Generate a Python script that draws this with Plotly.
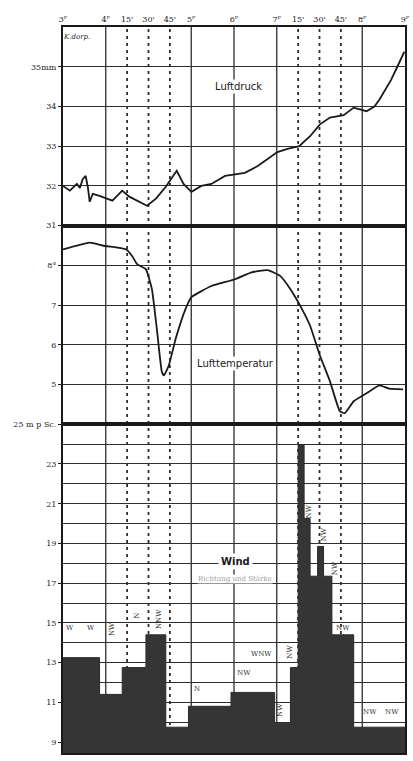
import plotly.graph_objects as go
from plotly.subplots import make_subplots

# Time axis in slot units: one slot = 30 min for the ordinary hours,
# 15 min for the expanded hours 4-5P and 7-8P.
tick_pos = [0, 2, 3, 4, 5, 6, 8, 10, 11, 12, 13, 14, 16]
tick_text = ["3ᴾ", "4ᴾ", "15'", "30'", "45'", "5ᴾ",
             "6ᴾ", "7ᴾ", "15'", "30'", "45'", "8ᴾ", "9ᴾ"]
hour_pos = [2, 6, 8, 10, 14]
quarter_pos = [3, 4, 5, 11, 12, 13]

# Luftdruck (mm, 7xx)
p_t = [0, 0.32, 0.65, 0.79, 0.92, 1.06, 1.16, 1.25, 1.39, 1.71, 2.31, 2.77, 3.10,
       3.93, 4.35, 4.81, 5.32, 5.64, 6.01, 6.47, 6.94, 7.58, 8.51, 9.11, 10.03,
       10.50, 11.05, 11.56, 12.02, 12.49, 13.13, 13.60, 14.20, 14.57, 14.80,
       15.35, 15.58, 15.80, 15.97]
p_v = [32.0, 31.88, 32.05, 31.95, 32.17, 32.25, 31.98, 31.6, 31.8, 31.75, 31.63,
       31.88, 31.73, 31.5, 31.68, 31.98, 32.38, 32.05, 31.85, 32.0, 32.05, 32.25,
       32.33, 32.5, 32.85, 32.93, 33.0, 33.25, 33.55, 33.72, 33.78, 33.97, 33.88,
       34.0, 34.17, 34.67, 34.93, 35.2, 35.38]
p_ticks = [31, 32, 33, 34, 35]
p_labels = ["31", "32", "33", "34", "35mm"]

# Lufttemperatur (deg C)
t_t = [0, 1.25, 1.85, 2.50, 2.96, 3.24, 3.47, 3.88, 4.16, 4.39, 4.62, 4.72, 4.95,
       5.27, 5.73, 6.01, 6.94, 8.05, 8.79, 9.57, 10.17, 10.64, 11.10, 11.56,
       12.02, 12.49, 12.95, 13.18, 13.60, 14.20, 14.80, 15.26, 15.91]
t_v = [8.4, 8.57, 8.5, 8.45, 8.4, 8.23, 8.03, 7.9, 7.4, 6.4, 5.33, 5.23, 5.48,
       6.15, 6.9, 7.2, 7.48, 7.65, 7.82, 7.88, 7.73, 7.4, 6.98, 6.48, 5.73, 5.08,
       4.33, 4.28, 4.58, 4.78, 4.98, 4.9, 4.88]
t_ticks = [5, 6, 7, 8]
t_labels = ["5", "6", "7", "8°"]

# Wind strength (m p Sec.), step edges and values
w_edges = [0, 1.71, 2.77, 3.88, 4.81, 5.87, 7.86, 9.90, 10.64, 11.0, 11.28,
           11.56, 11.91, 12.19, 12.58, 13.60, 16.05]
w_speed = [13.25, 11.4, 12.75, 14.4, 9.75, 10.8, 11.5, 9.95, 12.75, 23.95,
           20.25, 17.35, 18.85, 17.35, 14.4, 9.75]
w_ticks = [9, 11, 13, 15, 17, 19, 21, 23, 25]
w_labels = ["9", "11", "13", "15", "17", "19", "21", "23", "25 m p Sc."]
w_minor = [10, 12, 14, 16, 18, 20, 22, 24]

# Wind direction labels: (t, speed, text, angle)
w_dirs = [
    (0.33, 14.75, "W", 0), (1.3, 14.75, "W", 0),
    (2.3, 14.7, "NW", -90), (3.45, 15.35, "N", -90), (4.5, 15.2, "NNW", -90),
    (6.25, 11.65, "N", 0), (8.45, 12.5, "NW", 0), (9.3, 13.45, "WNW", 0),
    (10.62, 13.55, "NW", -90), (10.18, 10.6, "NW", -90),
    (11.5, 20.6, "NW", -90), (12.2, 19.45, "NW", -90), (12.72, 17.75, "NW", -90),
    (13.1, 14.75, "NW", 0), (14.35, 10.5, "NW", 0), (15.4, 10.5, "NW", 0),
]

p_range = [31, 36]
t_range = [4, 9]
w_range = [8.45, 25]

fig = make_subplots(rows=3, cols=1, shared_xaxes=True, vertical_spacing=0,
                    row_heights=[200, 200, 331])

ink = "#1a1a1a"
fig.add_trace(go.Scatter(x=p_t, y=p_v, mode="lines",
                         line=dict(color=ink, width=1.8), hoverinfo="skip"),
              row=1, col=1)
fig.add_trace(go.Scatter(x=t_t, y=t_v, mode="lines",
                         line=dict(color=ink, width=1.8, shape="spline", smoothing=0.4),
                         hoverinfo="skip"),
              row=2, col=1)
fig.add_trace(go.Scatter(x=w_edges, y=w_speed + [w_speed[-1]], mode="lines",
                         line=dict(color="#2b2b2b", width=1, shape="hv"),
                         fill="tozeroy", fillcolor="#353535", hoverinfo="skip"),
              row=3, col=1)

serif = "DejaVu Serif"
grid = "#2e2e2e"

for r in (1, 2, 3):
    fig.update_xaxes(range=[0, 16], showgrid=False, zeroline=False,
                     showline=True, mirror=True, linecolor=ink, linewidth=2,
                     ticks="", showticklabels=False, row=r, col=1)

fig.update_xaxes(side="top", showticklabels=True, tickmode="array",
                 tickvals=tick_pos, ticktext=tick_text,
                 tickfont=dict(family=serif, size=8, color=ink), row=1, col=1)

fig.update_yaxes(range=p_range, tickmode="array", tickvals=p_ticks,
                 ticktext=p_labels, row=1, col=1)
fig.update_yaxes(range=t_range, tickmode="array", tickvals=t_ticks,
                 ticktext=t_labels, row=2, col=1)
fig.update_yaxes(range=w_range, tickmode="array", tickvals=w_ticks,
                 ticktext=w_labels,
                 minor=dict(tickmode="array", tickvals=w_minor, showgrid=True,
                            gridcolor=grid, gridwidth=1.2, ticks=""),
                 row=3, col=1)
fig.update_yaxes(showgrid=True, gridcolor=grid, gridwidth=1.2, zeroline=False,
                 showline=True, mirror=True, linecolor=ink, linewidth=2,
                 ticks="outside", ticklen=3, tickcolor=ink,
                 tickfont=dict(family=serif, size=8, color=ink))

# Vertical hour lines (solid) and quarter-hour lines (dotted)
for xv in hour_pos:
    fig.add_shape(type="line", xref="x", yref="paper", x0=xv, x1=xv, y0=0, y1=1,
                  line=dict(color=grid, width=1.3), layer="below")
for xv in quarter_pos:
    fig.add_shape(type="line", xref="x", yref="paper", x0=xv, x1=xv, y0=0, y1=1,
                  line=dict(color=grid, width=1.8, dash="3px,4px"), layer="below")

# Panel titles
fig.add_annotation(x=8.2, y=34.5, xref="x", yref="y", text="Luftdruck",
                   showarrow=False, bgcolor="white",
                   font=dict(family="DejaVu Sans", size=10, color=ink))
fig.add_annotation(x=8.05, y=5.52, xref="x", yref="y2", text="Lufttemperatur",
                   showarrow=False, bgcolor="white",
                   font=dict(family="DejaVu Sans", size=10, color=ink))
fig.add_annotation(x=8.05, y=18.1, xref="x", yref="y3", text="<b>Wind</b>",
                   showarrow=False, bgcolor="white", borderpad=2,
                   font=dict(family="DejaVu Sans", size=10, color=ink))
fig.add_annotation(x=8.05, y=17.2, xref="x", yref="y3", text="Richtung und Stärke",
                   showarrow=False, bgcolor="white", borderpad=0,
                   font=dict(family=serif, size=7, color="#a0a0a0"))
fig.add_annotation(x=0.65, y=35.75, xref="x", yref="y", text="<i>K.dorp.</i>",
                   showarrow=False,
                   font=dict(family=serif, size=7, color=ink))

for t, s, txt, ang in w_dirs:
    fig.add_annotation(x=t, y=s, xref="x", yref="y3", text=txt, textangle=ang,
                       showarrow=False,
                       font=dict(family=serif, size=7, color="#333"))

fig.update_layout(width=413, height=761, showlegend=False,
                  margin=dict(l=63, r=3, t=27, b=3),
                  paper_bgcolor="white", plot_bgcolor="white")

fig.write_html("out.html")
